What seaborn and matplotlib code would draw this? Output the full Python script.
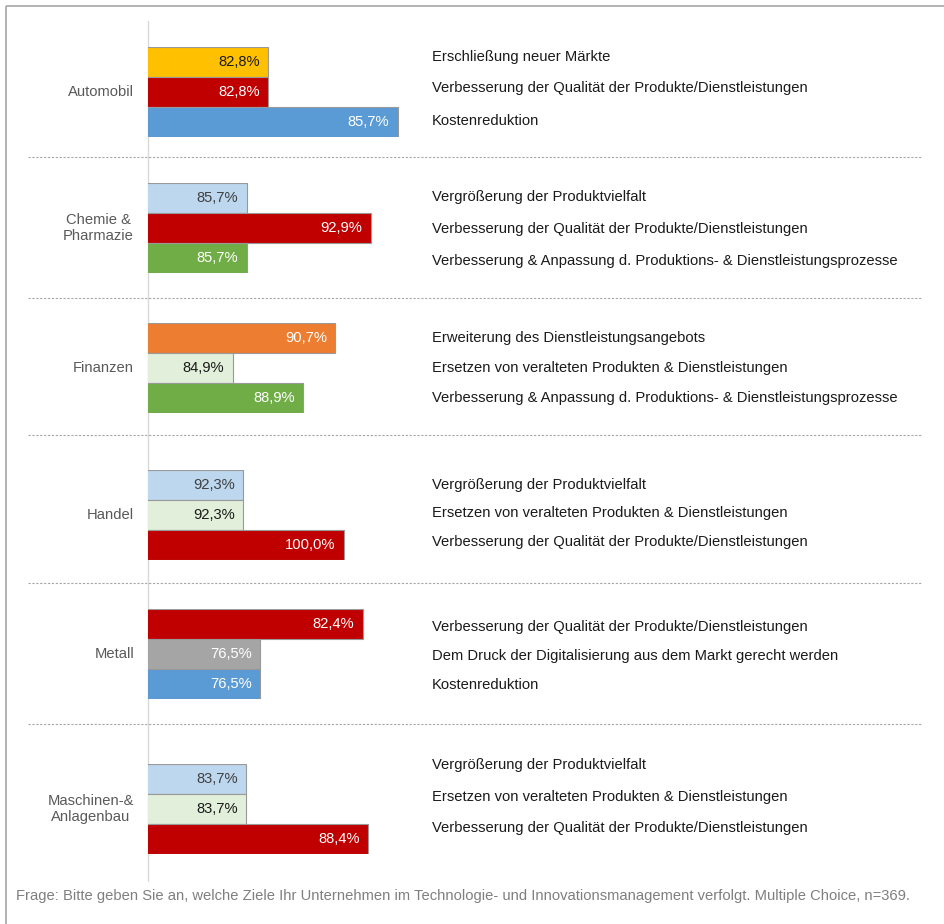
import matplotlib
matplotlib.use("Agg")
import matplotlib.pyplot as plt
from matplotlib.patches import Rectangle
import seaborn as sns

# Daten: Ziele im Technologie- und Innovationsmanagement je Branche
branchen = ["Automobil", "Chemie &\nPharmazie", "Finanzen", "Handel", "Metall",
            "Maschinen-&\nAnlagenbau"]

ziele_automobil = ["Erschließung neuer Märkte",
                   "Verbesserung der Qualität der Produkte/Dienstleistungen",
                   "Kostenreduktion"]
werte_automobil = [82.8, 82.8, 85.7]

ziele_chemie = ["Vergrößerung der Produktvielfalt",
                "Verbesserung der Qualität der Produkte/Dienstleistungen",
                "Verbesserung & Anpassung d. Produktions- & Dienstleistungsprozesse"]
werte_chemie = [85.7, 92.9, 85.7]

ziele_finanzen = ["Erweiterung des Dienstleistungsangebots",
                  "Ersetzen von veralteten Produkten & Dienstleistungen",
                  "Verbesserung & Anpassung d. Produktions- & Dienstleistungsprozesse"]
werte_finanzen = [90.7, 84.9, 88.9]

ziele_handel = ["Vergrößerung der Produktvielfalt",
                "Ersetzen von veralteten Produkten & Dienstleistungen",
                "Verbesserung der Qualität der Produkte/Dienstleistungen"]
werte_handel = [92.3, 92.3, 100.0]

ziele_metall = ["Verbesserung der Qualität der Produkte/Dienstleistungen",
                "Dem Druck der Digitalisierung aus dem Markt gerecht werden",
                "Kostenreduktion"]
werte_metall = [82.4, 76.5, 76.5]

ziele_maschinen = ["Vergrößerung der Produktvielfalt",
                   "Ersetzen von veralteten Produkten & Dienstleistungen",
                   "Verbesserung der Qualität der Produkte/Dienstleistungen"]
werte_maschinen = [83.7, 83.7, 88.4]

ziele = [ziele_automobil, ziele_chemie, ziele_finanzen, ziele_handel,
         ziele_metall, ziele_maschinen]
werte = [werte_automobil, werte_chemie, werte_finanzen, werte_handel,
         werte_metall, werte_maschinen]

farben = {
    "Erschließung neuer Märkte": "#FFC000",
    "Verbesserung der Qualität der Produkte/Dienstleistungen": "#C00000",
    "Kostenreduktion": "#5B9BD5",
    "Vergrößerung der Produktvielfalt": "#BDD7EE",
    "Verbesserung & Anpassung d. Produktions- & Dienstleistungsprozesse": "#70AD47",
    "Erweiterung des Dienstleistungsangebots": "#ED7D31",
    "Ersetzen von veralteten Produkten & Dienstleistungen": "#E2EFDA",
    "Dem Druck der Digitalisierung aus dem Markt gerecht werden": "#A5A5A5",
}
textfarben = {
    "#FFC000": "#1a1a1a", "#E2EFDA": "#1a1a1a", "#BDD7EE": "#404040",
}

fussnote = ("Frage: Bitte geben Sie an, welche Ziele Ihr Unternehmen im Technologie- "
            "und Innovationsmanagement verfolgt. Multiple Choice, n=369.")

# Layout (Pixel, Achsenbereiche je Gruppe)
W, H = 944, 924
x_links, x_breite = 148, 272
gruppen_oben = [47, 182.7, 323.3, 470, 609.3, 764.3]
balken_h = 30
x_limits = [(80.1, 86.2), (80.0, 95.74), (80.1, 95.5), (85.0, 105.86),
            (70.07, 85.7), (79.9, 90.4)]
label_y = [[-0.17, 0.87, 1.97], [-0.02, 1.04, 2.11], [-0.01, 0.99, 1.99],
           [0.0, 0.93, 1.9], [0.09, 1.06, 2.02], [-0.48, 0.59, 1.62]]
trenner_y = [157, 298, 435, 583, 724]
fs = 10.6

sns.set_theme(style="white")
plt.rcParams["font.family"] = ["Liberation Sans", "DejaVu Sans"]

fig = plt.figure(figsize=(W / 100, H / 100), dpi=100)

bg = fig.add_axes([0, 0, 1, 1])
bg.set_xlim(0, W)
bg.set_ylim(H, 0)
bg.axis("off")
bg.add_patch(Rectangle((6, 6), 1000, 1000, fill=False, edgecolor="#A6A6A6", lw=1.2))
bg.plot([147.5, 147.5], [21, 881], color="#D9D9D9", lw=1)
for y in trenner_y:
    bg.plot([28, 922], [y, y], color="#A6A6A6", lw=0.8, dashes=(2, 1.5))
bg.text(16, 896, fussnote, fontsize=fs, color="#7F7F7F", ha="left", va="center")

for i, name in enumerate(branchen):
    top = gruppen_oben[i]
    ax = fig.add_axes([x_links / W, 1 - (top + 3 * balken_h) / H,
                       x_breite / W, 3 * balken_h / H])
    sns.barplot(x=werte[i], y=ziele[i], hue=ziele[i], palette=farben, dodge=False,
                legend=False, orient="h", width=1.0, saturation=1,
                edgecolor="#999999", linewidth=0.8, ax=ax)
    ax.set_xlim(*x_limits[i])
    ax.set_ylim(2.5, -0.5)
    ax.axis("off")
    tr = ax.get_yaxis_transform()
    for j, (z, v) in enumerate(zip(ziele[i], werte[i])):
        c = farben[z]
        ax.annotate(f"{v:.1f}%".replace(".", ","), xy=(v, j), xytext=(-6, 0),
                    textcoords="offset points", ha="right", va="center",
                    fontsize=fs, color=textfarben.get(c, "white"))
        ax.text((432 - x_links) / x_breite, label_y[i][j], z, transform=tr,
                ha="left", va="center", fontsize=fs, color="#1a1a1a")
    ax.text(-14 / x_breite, 1, name, transform=tr, ha="right", va="center",
            multialignment="center", fontsize=fs, color="#595959", linespacing=1.15)

fig.savefig("out.png", dpi=100)
